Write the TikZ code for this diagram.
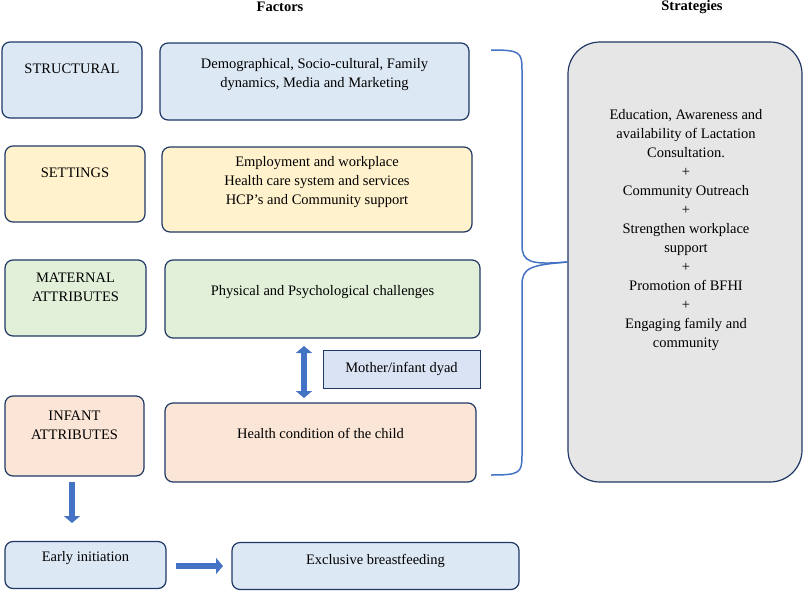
\documentclass[tikz,border=0pt]{standalone}
\usepackage{fontspec}
\setmainfont{Liberation Serif}
\usetikzlibrary{arrows.meta}
\definecolor{navy}{HTML}{1F3864}
\definecolor{arrowblue}{HTML}{4472C4}
\definecolor{cblue}{HTML}{DDE8F5}
\definecolor{cyellow}{HTML}{FFF2CC}
\definecolor{cgreen}{HTML}{E2F0D9}
\definecolor{corange}{HTML}{FBE5D6}
\definecolor{cdyad}{HTML}{DAE3F3}
\definecolor{cgray}{HTML}{E7E6E6}
\tikzstyle{factor}=[draw=navy,line width=1.2pt,rounded corners=8pt,align=center,font=\fontsize{14.5}{19}\selectfont]
\tikzstyle{fat}=[-{Triangle[length=7pt,width=16pt]},line width=6pt,draw=arrowblue]
\begin{document}
\begin{tikzpicture}[x=1pt,y=-1pt]
	\useasboundingbox (0,0) rectangle (809,595);
	%Headings
	\node[font=\bfseries\fontsize{14.5}{19}\selectfont] (factors) at (280,7) {Factors};
	\node[font=\bfseries\fontsize{14.5}{19}\selectfont] (strategies) at (692,7) {Strategies};
	%Left column
	\foreach \x/\y/\w/\h/\col/\name/\txt in
		{2/42/140/76/cblue/struct/STRUCTURAL,
		 5/146/140/76/cyellow/sett/SETTINGS,
		 5/260/141/76/cgreen/mat/{MATERNAL\\ATTRIBUTES},
		 5/396/139/80/corange/inf/{INFANT\\ATTRIBUTES}}
		\node[factor,fill=\col,minimum width=\w,minimum height=\h,text depth=22pt] (\name) at (\x+\w/2,\y+\h/2) {\txt};
	%Right column
	\foreach \x/\y/\w/\h/\col/\name/\txt in
		{160/43/309/77/cblue/demo/{Demographical, Socio-cultural, Family\\dynamics, Media and Marketing},
		 162/147/310/85/cyellow/empl/{Employment and workplace\\Health care system and services\\HCP’s and Community support},
		 165/260/315/78/cgreen/phys/{Physical and Psychological challenges},
		 165/403/311/79/corange/health/{Health condition of the child}}
		\node[factor,fill=\col,minimum width=\w,minimum height=\h,text depth=18pt] (\name) at (\x+\w/2,\y+\h/2) {\txt};
	\node[factor,fill=cblue,minimum width=161,minimum height=47,text depth=18pt] (early) at (85.5,565) {Early initiation};
	\node[factor,fill=cblue,minimum width=287,minimum height=47,text depth=14pt] (excl) at (375.5,566) {Exclusive breastfeeding};
	\node[factor,fill=cdyad,rounded corners=0pt,line width=0.6pt,minimum width=157,minimum height=38] (dyad) at (401.5,369) {Mother/infant dyad};
	%Arrows
	\coordinate (dtop) at (304,346);
	\coordinate (dbot) at (304,398);
	\coordinate (itop) at (72,482);
	\coordinate (ibot) at (72,523);
	\coordinate (eleft) at (176,566);
	\coordinate (eright) at (223,566);
	\draw[{Triangle[length=7pt,width=16pt]}-{Triangle[length=7pt,width=16pt]},line width=6pt,draw=arrowblue] (dtop) -- (dbot);
	\draw[fat] (itop) -- (ibot);
	\draw[fat] (eleft) -- (eright);
	%Strategies
	\node[factor,fill=cgray,rounded corners=32pt,minimum width=234,minimum height=440] (strat) at (685,262) {};
	\node[align=center,font=\fontsize{14.5}{19}\selectfont,anchor=north] (strattxt) at (686,106)
		{Education, Awareness and\\availability of Lactation\\Consultation.\\+\\Community Outreach\\+\\Strengthen workplace\\support\\+\\Promotion of BFHI\\+\\Engaging family and\\community};
	%Brace
	\coordinate (btop) at (491,50);
	\coordinate (bbot) at (491,475);
	\draw[arrowblue,line width=1.5pt] (btop) .. controls (520,50) and (522,52) .. (522,70) -- (522,245)
		.. controls (522,262) and (530,265) .. (strat.west);
	\draw[arrowblue,line width=1.5pt] (bbot) .. controls (520,475) and (522,473) .. (522,455) -- (522,285)
		.. controls (522,268) and (530,265) .. (strat.west);
\end{tikzpicture}
\end{document}
